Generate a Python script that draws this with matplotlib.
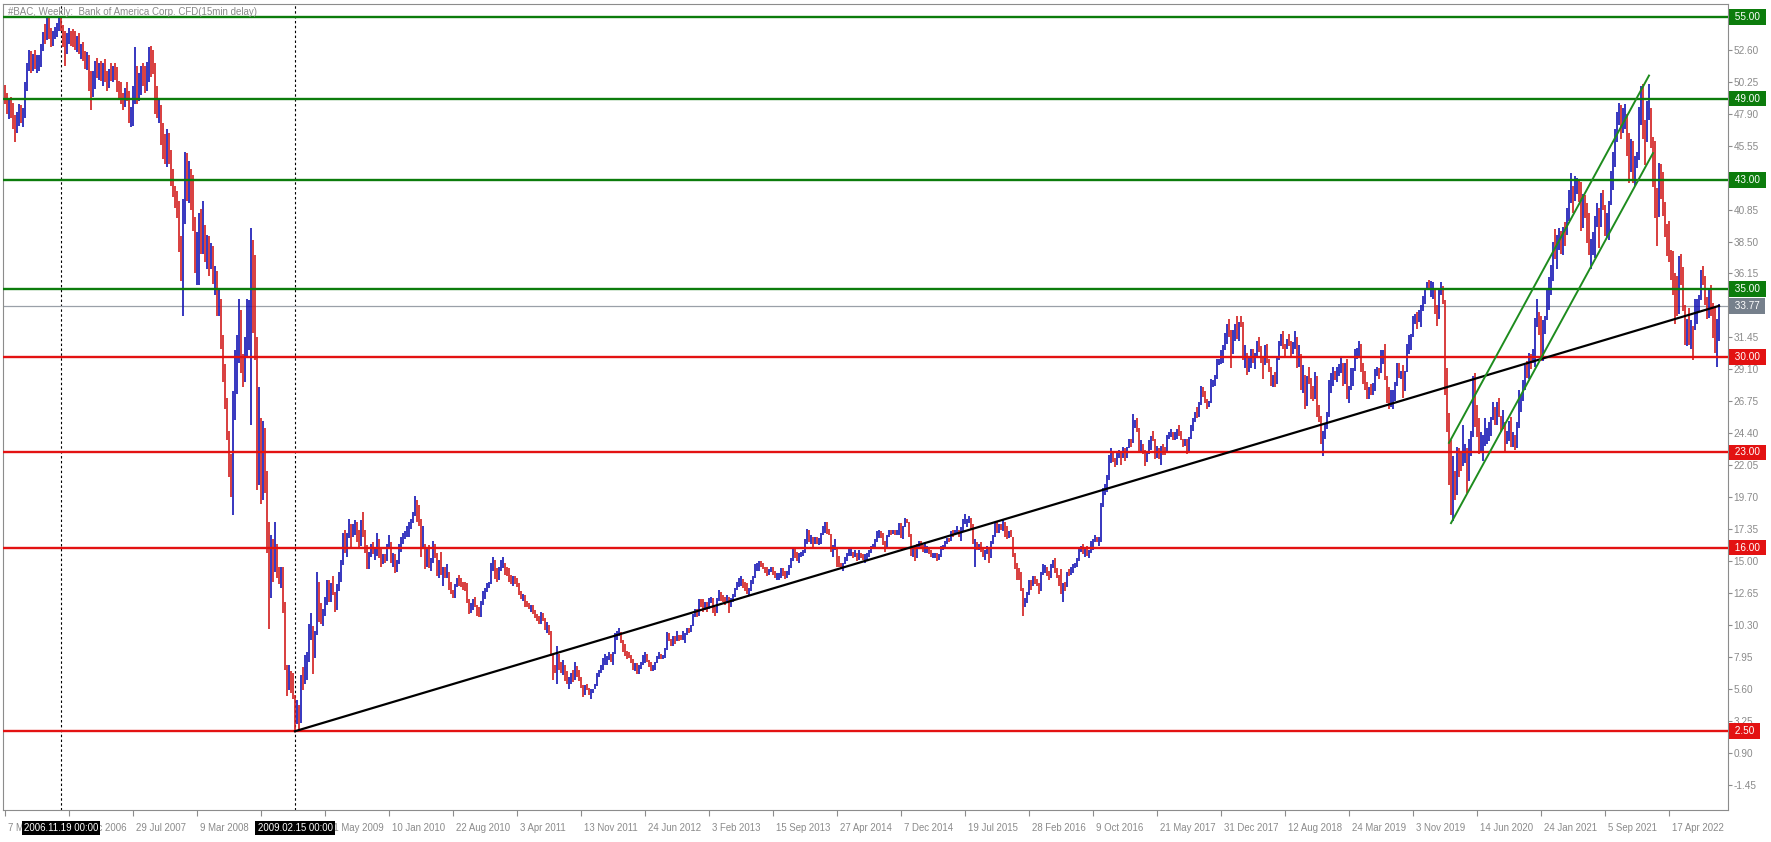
import numpy as np
import pandas as pd
import matplotlib
matplotlib.use("Agg")
import matplotlib.pyplot as plt
from matplotlib.collections import LineCollection

# --------------------------------------------------------------------------
# data (weekly bars, one value per week)
# --------------------------------------------------------------------------
chart_title = "#BAC, Weekly:  Bank of America Corp. CFD(15min delay)"
first_week = "2006-05-07"
first_open = 49.6

week_high = [
    # 2006
    50.0, 49.4, 48.9, 49.1, 48.7, 47.8, 48.0, 48.6, 48.5,
    48.3, 50.2, 51.6, 52.6, 52.5, 52.3, 52.6, 52.2, 52.2, 53.0, 53.9, 54.5, 55.0,
    54.9, 54.2, 54.0, 54.3, 54.6, 55.0, 55.1, 54.4, 54.0, 53.8, 54.2, 54.0, 54.1,
    # 2007
    54.0, 53.6, 53.8, 53.0, 53.2, 52.5, 52.4, 52.2, 51.0, 51.0, 51.8, 52.0, 51.6,
    51.8, 51.6, 51.9, 51.0, 51.2, 51.6, 51.4, 51.6, 51.3, 50.3, 50.2, 49.4, 49.8,
    50.2, 49.6, 48.4, 49.9, 52.8, 51.4, 50.9, 51.4, 51.6, 51.4, 51.7, 52.8, 52.9,
    52.6, 51.6, 49.9, 49.0, 48.5, 47.2, 46.4, 46.8, 46.5, 45.2, 43.8, 42.6, 42.2,
    # 2008
    41.5, 38.9, 41.6, 45.1, 45.0, 44.4, 43.8, 43.4, 40.3, 39.2, 40.6, 40.9, 41.5,
    39.7, 39.0, 38.9, 38.4, 38.2, 36.7, 36.3, 35.0, 34.3, 31.6, 29.5, 27.0, 24.6,
    22.9, 27.5, 30.5, 31.6, 34.3, 33.5, 30.2, 31.5, 34.3, 34.2, 39.5, 38.6, 37.5,
    31.2, 27.8, 25.5, 25.3, 24.8, 21.6, 17.9, 16.9, 16.6, 17.9, 16.3, 14.6, 14.6,
    # 2009
    14.6, 12.0, 7.4, 7.4, 6.9, 6.8, 5.2, 4.8, 4.4, 6.6, 7.2, 8.1, 8.3,
    10.4, 11.2, 10.0, 9.9, 14.2, 13.5, 11.9, 11.5, 12.4, 13.6, 13.6, 13.4, 13.9,
    12.7, 13.3, 14.2, 15.1, 17.1, 17.3, 17.1, 18.1, 17.7, 17.7, 18.0, 17.9, 17.3,
    18.0, 18.6, 17.3, 16.2, 15.7, 16.3, 16.4, 16.0, 17.1, 16.6, 16.0, 15.5, 15.5,
    # 2010
    16.3, 16.9, 16.4, 15.6, 15.5, 15.1, 16.3, 16.8, 17.1, 17.2, 17.6, 17.9, 18.1,
    18.6, 19.8, 19.5, 19.1, 18.1, 17.6, 16.3, 16.0, 16.2, 15.2, 16.5, 16.3, 15.4,
    15.1, 15.7, 14.6, 14.6, 14.8, 14.2, 13.5, 12.9, 13.3, 13.8, 14.0, 13.8, 13.5,
    13.5, 13.4, 12.2, 11.9, 12.2, 12.4, 11.8, 11.6, 12.1, 12.8, 13.0, 13.4, 13.5,
    # 2011
    14.9, 15.3, 15.1, 14.5, 14.6, 15.1, 15.3, 14.9, 14.6, 14.5, 14.0, 13.9, 13.9,
    13.8, 13.4, 12.8, 12.6, 12.5, 12.1, 11.9, 11.8, 11.8, 11.4, 11.1, 11.0, 11.3,
    11.2, 10.8, 10.5, 10.3, 9.9, 8.2, 7.4, 8.8, 8.2, 7.6, 7.7, 7.4, 6.9,
    6.5, 6.8, 7.0, 7.6, 7.3, 7.0, 6.5, 5.9, 5.9, 6.0, 5.7, 5.6, 5.6,
    # 2012
    6.0, 6.8, 7.0, 7.4, 7.9, 8.2, 8.0, 8.3, 8.2, 8.3, 9.7, 9.9, 10.1,
    9.8, 9.2, 8.9, 8.4, 8.3, 8.1, 7.8, 7.5, 7.5, 7.4, 7.6, 8.1, 8.3,
    8.2, 7.7, 7.6, 7.4, 7.6, 8.0, 8.3, 8.2, 8.1, 8.6, 9.8, 9.7, 9.3,
    9.5, 9.5, 9.9, 9.6, 9.6, 9.9, 9.7, 10.1, 10.1, 10.3, 11.1, 11.5, 11.5, 12.2,
    # 2013
    12.2, 12.2, 12.0, 12.0, 12.3, 12.4, 12.3, 11.6, 12.3, 12.9, 12.7, 12.5, 12.4,
    12.5, 12.3, 12.3, 12.6, 13.0, 13.5, 13.8, 13.9, 13.7, 13.5, 13.4, 13.0, 13.6,
    13.9, 14.8, 14.9, 15.0, 15.0, 14.9, 14.6, 14.6, 14.4, 14.6, 14.6, 14.3, 14.1,
    14.1, 14.5, 14.5, 14.3, 14.3, 14.7, 15.2, 15.9, 15.9, 15.7, 15.6, 15.7, 15.8,
    # 2014
    16.6, 17.4, 17.3, 16.9, 16.8, 16.8, 16.8, 16.7, 17.1, 17.6, 17.9, 17.9, 17.4,
    17.0, 16.2, 16.6, 16.0, 15.4, 14.9, 14.9, 15.3, 15.6, 15.9, 15.9, 15.6, 15.8,
    15.5, 15.8, 15.6, 15.5, 15.5, 15.6, 15.8, 16.1, 16.3, 16.6, 17.2, 17.3, 17.2,
    17.1, 16.5, 16.9, 17.3, 17.3, 17.3, 17.3, 17.3, 17.8, 17.8, 17.6, 18.2, 18.1,
    # 2015
    17.9, 17.0, 16.1, 16.1, 16.3, 16.5, 16.5, 16.2, 16.3, 16.1, 16.0, 15.8, 15.6,
    15.6, 15.6, 15.5, 16.1, 16.2, 16.5, 16.7, 16.7, 17.2, 17.3, 17.3, 17.6, 17.3,
    17.5, 18.1, 18.5, 18.1, 18.3, 18.2, 17.6, 16.6, 16.4, 16.3, 16.4, 15.9, 15.8,
    16.1, 15.9, 16.5, 16.9, 17.9, 17.9, 17.7, 17.7, 18.1, 17.9, 17.6, 17.2, 17.3,
    # 2016
    16.7, 15.6, 14.9, 14.5, 14.2, 13.0, 12.3, 12.7, 13.6, 13.6, 13.9, 13.9, 13.7,
    13.4, 14.2, 14.8, 14.7, 14.6, 14.3, 14.8, 15.1, 15.2, 14.5, 14.0, 14.4, 13.4,
    13.5, 14.2, 14.4, 14.6, 14.8, 14.9, 15.2, 15.9, 16.1, 16.3, 15.9, 16.1, 15.8,
    16.5, 16.6, 16.9, 16.8, 16.8, 19.3, 20.4, 20.7, 21.3, 22.8, 23.3, 23.0, 22.6,
    # 2017
    23.0, 23.2, 23.1, 23.4, 23.2, 23.4, 24.0, 24.0, 25.8, 25.4, 25.5, 24.8, 23.9,
    23.6, 23.2, 23.0, 23.9, 24.2, 24.6, 24.0, 23.5, 23.1, 23.5, 23.6, 23.4, 24.3,
    24.5, 24.7, 24.5, 24.5, 24.7, 25.0, 24.6, 24.0, 24.0, 24.0, 24.1, 25.0, 25.5,
    26.0, 26.3, 26.7, 27.9, 27.8, 27.5, 26.9, 26.8, 28.4, 28.3, 28.7, 29.9, 29.9, 30.5,
    # 2018
    30.9, 31.8, 32.4, 32.8, 32.0, 32.0, 32.4, 33.0, 32.6, 33.05, 32.6, 30.9, 30.3,
    30.1, 30.6, 30.6, 30.3, 31.2, 31.5, 30.8, 30.1, 30.9, 31.0, 29.9, 29.3, 28.7,
    28.9, 30.0, 31.2, 31.7, 31.9, 31.0, 31.3, 31.7, 31.2, 31.1, 31.9, 31.5, 30.9,
    30.2, 29.4, 28.7, 28.6, 29.3, 28.5, 27.9, 28.9, 28.6, 26.5, 25.7, 24.6, 25.1,
    # 2019
    26.0, 28.3, 28.8, 29.3, 29.0, 29.3, 29.5, 30.0, 29.6, 29.6, 29.9, 27.9, 29.2,
    29.2, 30.6, 30.7, 31.2, 30.9, 29.6, 29.0, 28.2, 27.8, 28.0, 28.1, 29.1, 29.3,
    29.2, 30.5, 30.5, 31.0, 28.4, 27.8, 27.6, 27.6, 28.2, 29.6, 29.6, 29.0, 29.4,
    29.0, 31.0, 31.6, 31.7, 33.0, 33.2, 33.3, 33.5, 33.8, 34.5, 35.0, 35.5, 35.7,
    # 2020
    35.6, 35.5, 35.1, 33.8, 35.1, 35.5, 35.2, 34.0, 29.2, 25.9, 23.9, 22.7, 21.6,
    23.4, 23.2, 23.1, 25.0, 23.6, 23.3, 24.0, 24.6, 28.6, 28.8, 26.5, 25.5, 24.5,
    24.3, 25.5, 24.8, 25.2, 25.6, 26.7, 26.3, 26.7, 27.0, 25.7, 26.1, 25.0, 24.6,
    25.3, 25.6, 24.5, 24.3, 25.2, 27.6, 27.2, 28.3, 29.4, 29.7, 30.3, 30.2, 30.6,
    # 2021
    32.9, 34.3, 33.3, 33.0, 32.7, 33.0, 35.0, 35.9, 36.8, 38.5, 39.4, 39.0, 39.5,
    39.3, 39.6, 39.9, 41.0, 42.3, 43.5, 42.6, 43.3, 43.2, 43.0, 42.9, 42.0, 41.9,
    41.3, 40.6, 38.7, 39.2, 40.4, 41.3, 41.0, 42.1, 42.3, 41.2, 40.6, 41.5, 43.7,
    45.1, 46.8, 48.0, 48.7, 48.5, 48.3, 48.6, 47.8, 46.5, 46.0, 45.9, 44.8, 45.1,
    # 2022
    48.4, 49.9, 50.1, 47.4, 48.8, 50.1, 48.3, 46.2, 45.9, 42.4, 44.3, 44.2, 43.6,
    41.4, 39.8, 40.0, 37.9, 37.8, 36.2, 36.0, 37.4, 37.6, 36.6, 33.8, 32.8, 33.6,
    32.7, 32.3, 34.3, 34.3, 34.6, 36.4, 36.7, 36.0, 34.4, 35.1, 35.3, 34.0, 33.6, 32.8, 33.9,
]

week_low = [
    # 2006
    48.6, 47.9, 47.5, 47.6, 46.8, 45.8, 46.5, 47.0, 47.2,
    46.9, 47.6, 49.6, 51.0, 50.9, 51.0, 51.2, 50.9, 51.0, 51.3, 52.5, 53.0, 53.3,
    53.4, 52.8, 52.9, 53.4, 53.5, 54.0, 54.0, 52.8, 51.4, 52.3, 53.0, 52.9, 52.8,
    # 2007
    52.6, 52.4, 52.3, 51.9, 51.8, 51.2, 51.1, 49.6, 48.2, 49.1, 49.7, 50.5, 50.4,
    50.3, 49.9, 50.2, 49.6, 49.8, 50.3, 50.2, 50.4, 49.5, 48.9, 48.6, 48.2, 48.4,
    48.8, 47.2, 46.9, 47.0, 48.6, 48.6, 48.8, 49.3, 49.9, 49.4, 49.6, 50.2, 50.6,
    50.8, 47.9, 47.6, 47.2, 45.6, 44.6, 44.2, 44.0, 44.2, 42.6, 41.8, 41.0, 40.2,
    # 2008
    37.7, 35.6, 33.0, 39.8, 41.5, 41.3, 40.8, 39.3, 36.2, 35.3, 35.3, 37.6, 37.6,
    37.0, 36.5, 36.0, 36.5, 35.4, 34.6, 33.0, 33.0, 30.6, 28.2, 26.2, 23.9, 21.2,
    19.7, 18.4, 25.4, 27.3, 29.6, 28.8, 27.8, 28.2, 30.0, 30.5, 25.0, 31.8, 29.8,
    20.2, 20.6, 19.2, 19.5, 20.0, 15.6, 10.0, 12.5, 13.5, 14.2, 13.8, 13.3, 13.0,
    # 2009
    11.2, 7.0, 5.1, 5.5, 5.3, 4.9, 2.53, 3.0, 2.6, 3.4, 5.5, 6.0, 6.3,
    7.6, 9.2, 6.7, 7.9, 9.6, 10.5, 10.4, 10.2, 11.0, 11.8, 12.0, 12.0, 12.5,
    11.3, 11.4, 12.8, 13.5, 14.7, 15.6, 15.3, 16.7, 16.0, 16.8, 16.9, 16.4, 15.9,
    16.1, 16.8, 15.6, 14.4, 14.4, 15.3, 15.5, 15.1, 15.4, 15.2, 14.6, 14.8, 14.9,
    # 2010
    15.0, 15.9, 14.9, 14.6, 14.1, 14.2, 14.8, 15.7, 16.3, 16.6, 16.8, 16.8, 17.4,
    17.8, 18.3, 17.9, 17.6, 15.3, 15.9, 14.4, 14.6, 14.5, 14.3, 15.0, 15.2, 13.9,
    13.8, 14.0, 13.2, 13.8, 13.8, 12.9, 12.6, 12.3, 12.3, 13.1, 13.2, 13.1, 12.9,
    12.8, 11.9, 11.1, 11.2, 11.4, 11.6, 11.0, 10.9, 10.9, 11.8, 12.2, 12.7, 13.0,
    # 2011
    13.5, 14.3, 13.7, 13.5, 13.6, 14.3, 14.5, 14.0, 13.9, 13.5, 13.3, 13.2, 13.3,
    13.1, 12.5, 12.2, 12.1, 11.6, 11.6, 11.5, 11.3, 11.1, 10.8, 10.6, 10.4, 10.4,
    10.6, 9.95, 9.7, 9.6, 8.0, 6.3, 6.8, 6.0, 7.0, 6.8, 6.6, 6.2, 6.0,
    5.6, 6.0, 6.1, 6.3, 6.5, 6.2, 5.7, 5.0, 5.2, 5.5, 5.2, 4.9, 5.3,
    # 2012
    5.6, 5.8, 6.5, 6.8, 7.0, 7.4, 7.4, 7.7, 7.6, 7.4, 8.2, 9.2, 9.5,
    9.0, 8.3, 8.0, 7.8, 7.9, 7.5, 7.0, 6.9, 6.7, 6.7, 7.1, 7.4, 7.5,
    7.6, 7.2, 6.9, 6.9, 7.0, 7.5, 7.8, 7.8, 7.8, 7.9, 8.5, 9.1, 8.8,
    8.8, 8.9, 9.1, 9.1, 9.2, 9.2, 9.0, 9.6, 9.7, 9.8, 10.3, 10.9, 10.9, 11.0,
    # 2013
    11.6, 11.3, 11.4, 11.3, 11.5, 11.9, 11.2, 11.0, 11.3, 12.1, 12.1, 12.0, 11.8,
    11.9, 11.2, 11.6, 12.0, 12.4, 12.9, 13.1, 13.2, 13.0, 12.8, 12.6, 12.5, 12.8,
    13.3, 13.8, 14.3, 14.3, 14.6, 14.4, 14.1, 13.9, 14.0, 14.2, 14.0, 13.8, 13.6,
    13.6, 13.8, 13.9, 13.7, 13.8, 14.0, 14.5, 15.0, 15.2, 15.0, 14.9, 15.3, 15.4,
    # 2014
    15.6, 16.3, 16.4, 16.3, 15.9, 16.3, 16.3, 16.2, 16.3, 16.9, 17.1, 17.0, 16.9,
    15.7, 15.3, 15.8, 14.6, 14.6, 14.4, 14.3, 14.8, 15.0, 15.4, 15.4, 15.2, 15.3,
    15.0, 15.1, 15.2, 15.1, 14.9, 15.1, 15.3, 15.6, 15.9, 16.0, 16.5, 16.7, 16.7,
    16.2, 15.7, 16.0, 16.8, 16.9, 17.0, 16.9, 16.9, 16.9, 16.7, 16.6, 17.6, 17.8,
    # 2015
    16.8, 15.4, 15.3, 15.0, 15.2, 15.9, 15.9, 15.7, 15.6, 15.6, 15.5, 15.3, 15.2,
    15.2, 15.0, 15.1, 15.3, 15.8, 16.0, 16.3, 16.4, 16.5, 16.8, 16.9, 17.1, 16.8,
    16.5, 17.2, 17.7, 17.5, 17.8, 17.4, 16.3, 14.6, 15.8, 15.8, 15.7, 15.3, 15.1,
    15.5, 14.9, 15.2, 16.3, 16.8, 17.1, 17.1, 17.3, 17.2, 16.8, 16.6, 16.7, 16.8,
    # 2016
    15.3, 14.4, 13.6, 13.6, 12.8, 11.0, 11.6, 11.9, 12.5, 12.9, 13.2, 13.3, 13.2,
    12.6, 12.8, 14.0, 14.1, 13.9, 13.6, 13.8, 14.5, 14.1, 13.8, 13.2, 12.6, 12.0,
    12.8, 13.2, 13.9, 14.0, 14.1, 14.5, 14.6, 15.0, 15.7, 15.5, 15.3, 15.4, 15.2,
    15.6, 15.8, 16.4, 16.4, 16.1, 16.4, 19.0, 19.9, 20.1, 21.0, 22.2, 22.3, 21.9,
    # 2017
    22.2, 22.6, 22.1, 22.6, 22.4, 22.6, 23.3, 23.4, 23.7, 24.8, 24.5, 23.1, 23.1,
    22.9, 22.0, 22.3, 23.0, 23.2, 23.8, 22.5, 22.6, 22.5, 22.1, 22.8, 22.8, 23.0,
    24.0, 24.1, 23.9, 23.9, 24.0, 24.2, 23.9, 23.4, 23.5, 22.9, 23.0, 24.0, 24.6,
    25.2, 25.5, 25.6, 26.5, 27.1, 26.6, 26.2, 26.3, 26.6, 27.8, 27.9, 28.4, 29.4, 29.5,
    # 2018
    29.6, 30.5, 31.0, 31.5, 29.2, 30.2, 31.2, 31.3, 31.2, 32.2, 29.8, 29.2, 28.7,
    28.9, 29.2, 29.6, 29.1, 30.0, 30.4, 29.6, 28.4, 29.4, 29.6, 28.9, 27.9, 27.8,
    27.8, 28.0, 29.8, 30.8, 30.6, 30.1, 30.6, 30.8, 30.1, 30.2, 30.6, 29.2, 29.3,
    27.6, 27.4, 26.2, 26.4, 28.0, 26.9, 26.8, 26.9, 25.6, 25.2, 23.6, 22.7, 24.0,
    # 2019
    24.7, 25.6, 27.4, 27.9, 28.3, 28.2, 28.6, 28.8, 27.9, 28.0, 26.9, 26.6, 27.6,
    27.9, 29.0, 29.9, 30.0, 28.9, 28.0, 27.6, 26.9, 26.9, 27.2, 27.2, 27.5, 28.6,
    28.4, 28.8, 29.5, 28.3, 26.6, 26.2, 26.3, 26.2, 26.8, 27.9, 28.5, 28.4, 27.0,
    27.5, 29.0, 30.2, 30.5, 31.8, 32.4, 32.1, 32.6, 32.2, 33.4, 33.9, 34.9, 34.9,
    # 2020
    34.4, 34.3, 33.2, 32.3, 32.9, 34.6, 33.9, 27.2, 24.5, 20.6, 18.4, 17.95, 19.5,
    20.5, 21.2, 21.6, 22.0, 22.2, 20.0, 20.9, 22.7, 24.2, 24.9, 24.1, 22.9, 23.0,
    22.4, 23.5, 23.6, 23.8, 24.2, 25.4, 25.0, 25.0, 25.6, 24.5, 24.7, 23.0, 23.6,
    23.8, 23.4, 23.4, 23.2, 23.3, 25.2, 26.0, 26.8, 27.6, 28.5, 28.4, 29.1, 29.6,
    # 2021
    29.3, 32.2, 31.6, 29.7, 29.9, 31.7, 32.7, 33.5, 34.6, 35.6, 37.2, 36.5, 37.9,
    37.6, 37.5, 38.2, 39.0, 40.0, 41.3, 40.6, 41.5, 42.0, 41.4, 39.3, 39.5, 40.2,
    38.4, 37.5, 36.5, 37.5, 37.3, 39.6, 38.0, 39.6, 40.8, 38.9, 38.8, 38.6, 41.2,
    42.3, 44.0, 45.8, 47.1, 46.0, 46.5, 46.8, 44.8, 42.8, 43.6, 42.8, 42.6, 43.9,
    # 2022
    44.7, 47.1, 46.0, 44.1, 45.8, 47.4, 45.4, 42.5, 40.2, 38.2, 40.3, 41.6, 40.4,
    38.8, 37.4, 37.0, 35.7, 34.6, 32.4, 33.0, 33.2, 35.3, 33.4, 30.9, 30.8, 30.9,
    30.6, 29.8, 32.0, 32.4, 33.4, 34.2, 35.3, 33.8, 32.8, 32.9, 33.0, 31.4, 30.3, 29.3, 31.2,
]

week_close = [
    # 2006
    48.9, 48.3, 48.6, 48.2, 47.2, 46.6, 47.7, 48.1, 47.6,
    47.9, 49.9, 51.4, 51.6, 51.3, 52.0, 51.5, 51.5, 51.7, 52.8, 53.6, 53.5, 54.6,
    53.9, 53.2, 53.8, 53.9, 54.4, 54.7, 54.2, 53.7, 52.6, 53.4, 53.6, 53.5, 53.4,
    # 2007
    53.0, 53.3, 52.6, 52.6, 52.0, 51.6, 52.0, 50.4, 49.3, 50.6, 51.5, 51.0, 51.1,
    50.6, 51.4, 50.6, 50.2, 51.0, 50.9, 51.2, 50.7, 49.9, 49.6, 49.0, 48.9, 49.4,
    49.0, 47.6, 47.9, 49.6, 50.6, 49.4, 50.3, 50.6, 50.4, 49.9, 51.1, 52.3, 51.8,
    51.4, 48.3, 48.0, 48.3, 46.0, 45.2, 44.8, 46.2, 44.5, 43.0, 42.2, 41.4, 41.3,
    # 2008
    38.3, 36.3, 40.3, 44.7, 42.1, 43.5, 42.4, 39.9, 36.8, 37.4, 40.0, 38.5, 38.8,
    37.6, 38.6, 36.9, 37.9, 35.9, 36.2, 33.5, 34.0, 31.0, 29.0, 26.5, 24.0, 21.7,
    20.5, 27.0, 28.6, 31.1, 33.2, 29.4, 28.6, 31.2, 31.5, 33.7, 37.5, 34.0, 31.5,
    22.3, 23.7, 21.3, 24.2, 21.2, 16.3, 12.3, 16.3, 14.3, 15.6, 14.1, 13.6, 14.3,
    # 2009
    11.6, 7.2, 5.7, 6.6, 6.4, 5.0, 3.9, 3.9, 3.1, 6.1, 6.0, 7.5, 7.9,
    10.0, 10.2, 8.9, 9.6, 13.2, 11.1, 10.7, 11.3, 11.9, 13.2, 12.4, 13.2, 12.6,
    11.6, 12.9, 13.7, 14.8, 16.8, 16.2, 17.0, 17.6, 17.2, 17.3, 17.6, 16.9, 16.2,
    17.9, 17.0, 15.6, 14.6, 15.3, 16.0, 15.6, 15.6, 16.6, 15.6, 15.1, 15.3, 15.1,
    # 2010
    16.0, 16.2, 15.1, 15.2, 14.6, 14.8, 16.1, 16.6, 16.8, 17.0, 17.2, 17.7, 18.0,
    18.5, 19.1, 18.3, 17.8, 15.9, 16.1, 15.4, 15.7, 14.7, 14.9, 16.0, 15.6, 14.0,
    14.9, 14.2, 14.2, 14.0, 14.1, 13.1, 12.7, 12.6, 13.2, 13.5, 13.4, 13.3, 13.1,
    13.0, 12.1, 11.4, 11.4, 12.0, 11.7, 11.3, 11.0, 11.9, 12.6, 12.7, 13.3, 13.3,
    # 2011
    14.4, 15.1, 14.1, 13.7, 14.4, 14.8, 14.9, 14.3, 14.2, 13.8, 13.5, 13.7, 13.5,
    13.3, 12.7, 12.3, 12.3, 11.8, 11.7, 11.6, 11.7, 11.2, 10.9, 10.8, 10.6, 11.2,
    10.7, 10.2, 10.2, 9.7, 8.2, 7.0, 6.9, 7.7, 7.1, 7.0, 7.3, 6.4, 6.1,
    6.2, 6.6, 6.4, 7.3, 6.9, 6.3, 5.9, 5.2, 5.8, 5.6, 5.3, 5.4, 5.6,
    # 2012
    5.8, 6.6, 6.9, 7.3, 7.6, 7.8, 7.9, 7.9, 7.8, 8.2, 9.5, 9.6, 9.6,
    9.2, 8.5, 8.3, 8.2, 8.0, 7.7, 7.1, 7.3, 6.8, 7.3, 7.4, 7.7, 8.2,
    7.7, 7.3, 7.1, 7.3, 7.5, 7.9, 8.0, 7.9, 8.0, 8.5, 9.6, 9.2, 8.8,
    9.4, 9.1, 9.6, 9.4, 9.3, 9.4, 9.6, 10.0, 9.9, 10.2, 10.9, 11.3, 11.0, 12.1,
    # 2013
    11.7, 11.5, 11.9, 11.7, 12.2, 12.2, 11.5, 11.2, 12.2, 12.6, 12.3, 12.2, 12.0,
    12.4, 11.7, 12.2, 12.5, 12.9, 13.3, 13.4, 13.7, 13.5, 13.0, 12.8, 12.9, 13.5,
    13.8, 14.5, 14.5, 14.9, 14.8, 14.5, 14.4, 14.1, 14.2, 14.4, 14.1, 13.8, 13.8,
    13.9, 14.2, 14.0, 13.9, 14.2, 14.6, 15.0, 15.8, 15.4, 15.2, 15.4, 15.6, 15.6,
    # 2014
    16.3, 17.1, 16.6, 16.7, 16.5, 16.6, 16.4, 16.5, 17.0, 17.2, 17.5, 17.2, 16.9,
    15.9, 16.0, 16.0, 15.1, 14.6, 14.5, 14.8, 15.1, 15.6, 15.6, 15.7, 15.4, 15.6,
    15.1, 15.5, 15.4, 15.2, 15.3, 15.3, 15.6, 16.1, 16.1, 16.4, 17.0, 17.1, 16.9,
    16.3, 16.2, 16.8, 17.2, 17.1, 17.2, 17.0, 17.1, 17.6, 16.8, 17.5, 18.0, 17.9,
    # 2015
    17.0, 15.6, 15.8, 15.2, 16.2, 16.4, 16.1, 15.8, 15.9, 15.9, 15.7, 15.4, 15.4,
    15.5, 15.3, 15.4, 15.9, 16.1, 16.4, 16.6, 16.5, 17.1, 17.0, 17.2, 17.3, 17.0,
    17.2, 17.9, 17.9, 17.9, 18.1, 17.7, 16.4, 16.4, 15.9, 16.2, 15.8, 15.5, 15.7,
    15.8, 15.3, 16.4, 16.8, 17.8, 17.2, 17.6, 17.5, 17.8, 16.9, 16.7, 17.1, 16.8,
    # 2016
    15.4, 14.6, 14.5, 14.1, 12.9, 11.9, 12.2, 12.6, 13.5, 13.4, 13.7, 13.5, 13.4,
    12.8, 14.1, 14.6, 14.6, 14.0, 13.9, 14.6, 15.0, 14.2, 13.9, 13.4, 12.9, 13.3,
    13.1, 14.1, 14.0, 14.5, 14.7, 14.8, 15.1, 15.7, 16.0, 15.6, 15.6, 15.5, 15.6,
    16.2, 16.4, 16.6, 16.5, 16.5, 19.0, 20.1, 20.4, 21.1, 22.5, 22.6, 22.5, 22.1,
    # 2017
    22.9, 22.9, 22.6, 23.3, 22.8, 23.3, 23.9, 23.7, 25.0, 25.3, 24.7, 23.3, 23.6,
    23.2, 22.3, 22.9, 23.3, 24.1, 24.0, 22.9, 23.3, 22.6, 23.2, 23.1, 23.0, 24.3,
    24.4, 24.5, 24.1, 24.3, 24.6, 24.5, 24.0, 23.6, 23.8, 23.0, 24.0, 25.0, 25.3,
    26.0, 25.8, 26.6, 27.7, 27.3, 26.8, 26.4, 26.6, 28.2, 28.2, 28.4, 29.5, 29.7, 30.3,
    # 2018
    30.9, 31.4, 32.1, 31.7, 30.4, 31.6, 32.3, 31.7, 32.6, 32.4, 30.0, 30.0, 29.0,
    29.3, 30.2, 30.0, 30.2, 31.0, 30.5, 29.9, 29.5, 30.6, 29.7, 29.0, 28.2, 28.4,
    28.1, 29.9, 31.0, 31.6, 30.9, 30.8, 31.1, 30.9, 30.5, 30.9, 31.2, 29.5, 30.2,
    28.2, 28.4, 26.6, 28.4, 28.3, 27.4, 27.1, 28.4, 26.2, 25.3, 23.8, 24.6, 24.9,
    # 2019
    25.9, 28.0, 28.4, 28.8, 28.7, 28.9, 29.1, 29.6, 28.0, 29.3, 27.0, 27.6, 28.9,
    29.1, 30.3, 30.5, 31.0, 29.6, 28.5, 27.9, 27.0, 27.5, 27.4, 27.5, 29.0, 29.1,
    29.0, 30.0, 30.2, 28.6, 26.9, 26.4, 26.7, 27.5, 27.9, 29.5, 28.8, 29.0, 28.6,
    28.9, 30.4, 31.5, 31.5, 32.9, 33.0, 32.6, 33.3, 33.6, 34.2, 34.9, 35.3, 35.0,
    # 2020
    35.0, 35.1, 33.6, 32.8, 34.8, 35.1, 34.2, 28.5, 25.0, 22.9, 19.0, 21.2, 19.9,
    23.3, 22.8, 22.0, 22.9, 22.9, 21.0, 23.2, 24.1, 28.3, 25.6, 25.0, 23.0, 23.7,
    24.0, 24.0, 24.3, 24.9, 25.5, 26.2, 25.1, 26.2, 25.7, 25.2, 25.2, 23.8, 23.8,
    25.2, 24.0, 24.2, 23.7, 24.8, 26.6, 26.8, 27.9, 29.4, 29.0, 30.1, 29.8, 30.3,
    # 2021
    32.3, 33.1, 32.2, 29.7, 32.2, 32.8, 34.2, 34.7, 36.4, 38.3, 37.3, 38.7, 39.0,
    38.3, 39.3, 39.1, 40.5, 42.3, 42.6, 41.8, 42.4, 42.4, 41.7, 39.7, 41.6, 41.0,
    39.3, 38.0, 38.4, 38.4, 40.0, 40.9, 39.6, 41.8, 40.9, 39.4, 40.1, 41.3, 43.0,
    45.0, 46.2, 47.6, 47.8, 46.8, 47.4, 47.9, 45.2, 43.9, 45.3, 43.5, 44.2, 44.5,
    # 2022
    48.0, 49.4, 46.6, 46.4, 47.9, 48.0, 45.8, 45.2, 41.0, 40.5, 43.7, 42.3, 40.6,
    39.0, 38.2, 37.3, 35.7, 35.4, 35.0, 33.6, 37.2, 35.5, 33.5, 31.3, 32.8, 31.1,
    32.1, 32.0, 33.3, 33.8, 34.4, 35.9, 35.6, 33.9, 33.0, 34.7, 33.2, 31.7, 30.7, 32.2, 33.77,
]

# horizontal levels drawn on the chart
green_levels = [55.00, 49.00, 43.00, 35.00]
red_levels = [30.00, 23.00, 16.00, 2.50]
last_price = 33.77

# trend line and rising channel (anchor dates / prices)
trend_dates = ["2009-02-15", "2022-10-09"]
trend_prices = [2.50, 33.77]
channel_top_dates = ["2020-03-08", "2022-02-06"]
channel_top_prices = [23.7, 50.7]
channel_bottom_dates = ["2020-03-15", "2022-02-20"]
channel_bottom_prices = [17.8, 45.0]

# vertical marker lines
marker_dates = ["2006-11-19", "2009-02-15"]

# price scale ticks
price_ticks = [-1.45, 0.90, 3.25, 5.60, 7.95, 10.30, 12.65, 15.00, 17.35, 19.70,
               22.05, 24.40, 26.75, 29.10, 31.45, 33.80, 36.15, 38.50, 40.85,
               43.20, 45.55, 47.90, 50.25, 52.60, 54.95]

# --------------------------------------------------------------------------
start = pd.Timestamp(first_week)


def bar_of(day):
    return (pd.Timestamp(day) - start).days / 7.0


n = min(len(week_high), len(week_low), len(week_close))
bars = np.arange(n)
close = np.array(week_close[:n], dtype=float)
opens = np.concatenate([[first_open], close[:-1]])
high = np.maximum(np.array(week_high[:n], dtype=float), np.maximum(opens, close))
low = np.minimum(np.array(week_low[:n], dtype=float), np.minimum(opens, close))

bull = "#1414b4"
bear = "#d21e1e"
dark_green = "#0c7c0c"
bright_red = "#e31212"
axis_grey = "#8c8c8c"
text_grey = "#8a8a8a"
price_size = 7.2
time_size = 6.9

plt.rcParams["font.family"] = ["Liberation Sans", "DejaVu Sans"]

fig = plt.figure(figsize=(17.71, 8.42), dpi=100)
fig.patch.set_facecolor("white")
ax = fig.add_axes([3 / 1771, 32 / 842, 1725 / 1771, 806 / 842])
ax.set_xlim(-1, 861.5)
ax.set_ylim(-3.29, 55.96)

# weekly bars
segs = [[(b, l), (b, h)] for b, l, h in zip(bars, low, high)]
cols = [bull if c >= o else bear for o, c in zip(opens, close)]
ax.add_collection(LineCollection(segs, colors=cols, linewidths=1.2, zorder=3))

# level lines
for lvl in green_levels:
    ax.axhline(lvl, color=dark_green, lw=1.7, zorder=4)
for lvl in red_levels:
    ax.axhline(lvl, color=bright_red, lw=1.7, zorder=4)
ax.axhline(last_price, color="#9aa0a8", lw=0.9, zorder=2)

# trend line and channel
ax.plot([bar_of(d) for d in trend_dates], trend_prices, color="black", lw=1.6, zorder=5)
ax.plot([bar_of(d) for d in channel_top_dates], channel_top_prices,
        color="#1e8c1e", lw=1.4, zorder=5)
ax.plot([bar_of(d) for d in channel_bottom_dates], channel_bottom_prices,
        color="#1e8c1e", lw=1.4, zorder=5)

# vertical markers
marker_bars = [bar_of(d) for d in marker_dates]
for mb in marker_bars:
    ax.axvline(mb, color="black", lw=0.8, ls=(0, (2.2, 2.2)), zorder=1)

# frame
for s in ax.spines.values():
    s.set_color(axis_grey)
    s.set_linewidth(0.8)

# price scale on the right (labels sitting under a level tag are covered anyway)
tag_levels = green_levels + red_levels + [last_price]
ax.yaxis.tick_right()
ax.set_yticks(price_ticks)
ax.set_yticklabels(["" if min(abs(v - t) for t in tag_levels) < 0.1 else f"{v:.2f}"
                    for v in price_ticks])
ax.tick_params(axis="y", length=3, width=0.8, pad=1, labelsize=price_size,
               colors=axis_grey, labelcolor=text_grey)

# time scale
tick_bars = list(range(0, n, 32))
ax.set_xticks(tick_bars)
ax.set_xticklabels([])
ax.tick_params(axis="x", length=4, width=0.8, colors=axis_grey)
for b in tick_bars:
    # a date fully hidden behind a highlighted marker date is not drawn
    if any(mb - 19 <= b <= mb - 6 for mb in marker_bars):
        continue
    d = start + pd.Timedelta(weeks=b)
    ax.annotate(f"{d.day} {d:%b %Y}", xy=(b, 0), xycoords=("data", "axes fraction"),
                xytext=(2, -13), textcoords="offset points", ha="left", va="center",
                fontsize=time_size, color=text_grey, annotation_clip=False)

# highlighted dates of the marker lines
for d, mb in zip(marker_dates, marker_bars):
    ax.annotate(pd.Timestamp(d).strftime("%Y.%m.%d 00:00"), xy=(mb, 0),
                xycoords=("data", "axes fraction"), xytext=(0, -13),
                textcoords="offset points", ha="center", va="center", fontsize=time_size,
                color="white", zorder=10, annotation_clip=False,
                bbox=dict(boxstyle="square,pad=0.22", fc="black", ec="none"))

# level tags on the price scale
tags = [(v, dark_green) for v in green_levels] + [(v, bright_red) for v in red_levels]
tags.append((last_price, "#76808c"))
for v, c in tags:
    ax.annotate(f" {v:.2f} ", xy=(1, v), xycoords=("axes fraction", "data"),
                xytext=(3, 0), textcoords="offset points", ha="left", va="center",
                fontsize=price_size, color="white", zorder=10, annotation_clip=False,
                bbox=dict(boxstyle="square,pad=0.28", fc=c, ec="none"))

# symbol caption
fig.text(8 / 1771, 1 - 12 / 842, chart_title, fontsize=7.0, color=text_grey,
         ha="left", va="center")

fig.savefig("out.png", dpi=100)
